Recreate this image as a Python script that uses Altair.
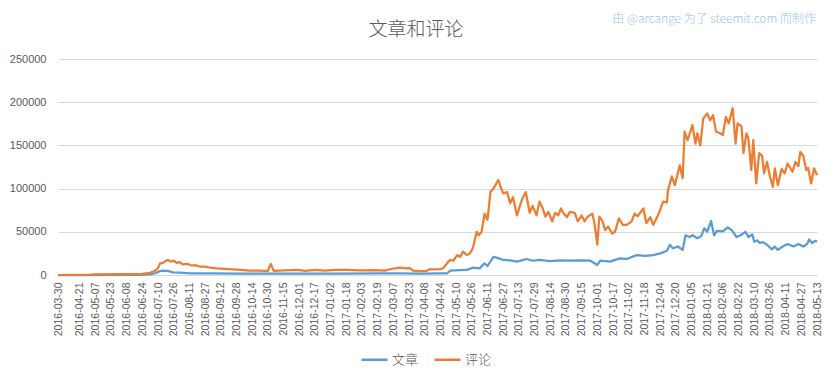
import altair as alt
import pandas as pd

TITLE = "文章和评论"
WATERMARK = "由 @arcange 为了 steemit.com 而制作"
START = "2016-03-30"
END = "2018-05-13"

tick_dates = [
    "2016-03-30", "2016-04-21", "2016-05-07", "2016-05-23", "2016-06-08", "2016-06-24",
    "2016-07-10", "2016-07-26", "2016-08-11", "2016-08-27", "2016-09-12", "2016-09-28",
    "2016-10-14", "2016-10-30", "2016-11-15", "2016-12-01", "2016-12-17", "2017-01-02",
    "2017-01-18", "2017-02-03", "2017-02-19", "2017-03-07", "2017-03-23", "2017-04-08",
    "2017-04-24", "2017-05-10", "2017-05-26", "2017-06-11", "2017-06-27", "2017-07-13",
    "2017-07-29", "2017-08-14", "2017-08-30", "2017-09-15", "2017-10-01", "2017-10-17",
    "2017-11-02", "2017-11-18", "2017-12-04", "2017-12-20", "2018-01-05", "2018-01-21",
    "2018-02-06", "2018-02-22", "2018-03-10", "2018-03-26", "2018-04-11", "2018-04-27",
    "2018-05-13",
]

y_ticks = [0, 50000, 100000, 150000, 200000, 250000]

series_names = ["文章", "评论"]
series_colors = ["#5B9BD5", "#ED7D31"]

# 文章 (posts): day offset from START, value
post_days = [0, 84, 94, 99, 104, 107, 112, 117, 124, 135, 155, 186, 216, 247, 288, 328,
             349, 369, 390, 397, 400, 410, 417, 423, 430, 435, 438, 444, 449, 454, 461,
             468, 473, 478, 484, 491, 501, 512, 522, 532, 543, 550, 553, 563, 573, 580,
             590, 599, 607, 614, 621, 624, 627, 632, 637, 640, 644, 647, 652, 656, 659,
             662, 666, 669, 672, 678, 683, 687, 692, 696, 701, 704, 708, 710, 713, 716,
             719, 723, 728, 731, 734, 739, 744, 750, 755, 760, 764, 766, 769, 772, 774]
post_vals = [0, 200, 800, 2000, 4500, 5000, 4800, 3100, 2800, 2000, 1900, 1600, 1500,
             1500, 1600, 1800, 2000, 1700, 1800, 2000, 5000, 5500, 5800, 8500, 7700,
             13500, 10400, 21000, 19500, 17400, 17000, 15400, 17000, 18500, 16500, 17400,
             16000, 17000, 16500, 17000, 16500, 11600, 16500, 15500, 19300, 18500, 23000,
             22000, 23000, 25000, 28000, 35000, 31000, 33000, 29000, 46000, 44000, 46000,
             42500, 45000, 54000, 50000, 62500, 46000, 51000, 50500, 55000, 52000, 44000,
             46000, 50000, 44000, 47000, 38500, 40000, 37000, 38000, 35000, 29700, 33000,
             29000, 33000, 35800, 33000, 36000, 33000, 36000, 41000, 37000, 39500, 39000]

# 评论 (comments): day offset from START, value
comment_days = [0, 33, 38, 63, 84, 94, 99, 102, 104, 107, 110, 112, 115, 118, 121, 124,
                127, 132, 136, 140, 145, 150, 155, 162, 170, 178, 186, 196, 206, 214, 217,
                220, 226, 237, 244, 252, 262, 272, 282, 295, 308, 323, 333, 342, 349, 354,
                359, 362, 369, 376, 379, 390, 393, 398, 400, 403, 407, 410, 413, 417, 420,
                423, 427, 429, 432, 435, 438, 441, 444, 449, 451, 454, 458, 461, 464, 468,
                473, 477, 481, 484, 488, 491, 494, 497, 500, 504, 507, 510, 513, 515, 519,
                522, 527, 530, 534, 537, 540, 545, 547, 550, 552, 555, 558, 561, 565, 568,
                572, 576, 580, 585, 588, 591, 597, 600, 604, 607, 611, 614, 617, 621, 622,
                626, 629, 632, 634, 637, 639, 642, 647, 650, 652, 655, 658, 662, 665, 668,
                671, 675, 678, 681, 684, 688, 691, 693, 697, 699, 702, 704, 707, 709, 712,
                715, 718, 720, 723, 726, 729, 731, 734, 738, 741, 744, 749, 752, 755, 757,
                760, 763, 765, 768, 771, 774]
comment_vals = [0, 300, 800, 900, 1000, 2500, 5000, 8000, 13500, 14000, 16500, 17400,
                15500, 16500, 14000, 15000, 12400, 13000, 11000, 11500, 9600, 9800, 8500,
                7700, 7200, 6600, 6000, 5000, 5200, 4600, 12700, 4800, 5000, 5500, 5800,
                4800, 5800, 5200, 5800, 5800, 5400, 5600, 5000, 7500, 8500, 7800, 8100,
                5000, 4600, 4800, 6600, 6800, 8000, 15400, 17400, 16500, 23000, 21000,
                27000, 23000, 25000, 31000, 50000, 46000, 50000, 71000, 64000, 96000,
                100000, 110000, 103000, 94500, 96000, 83000, 90000, 69000, 87000, 96000,
                72000, 80000, 69000, 85000, 78000, 67500, 73000, 62000, 72000, 69000,
                77000, 72000, 67000, 73000, 72000, 62000, 69000, 62000, 67500, 71000,
                60000, 35000, 67500, 63000, 52000, 56000, 48000, 50000, 65600, 58000,
                58000, 62000, 71000, 68000, 77000, 60000, 67000, 58000, 67000, 75000,
                85000, 84000, 98000, 114000, 104000, 117500, 127000, 112000, 166000,
                156000, 173500, 152000, 164000, 150000, 181000, 187000, 179000, 185000,
                166000, 164000, 162000, 183000, 175500, 193000, 152000, 175500, 172000,
                141000, 164000, 158000, 121500, 156000, 106000, 141000, 138000, 117500,
                131000, 114000, 102000, 123500, 104000, 123000, 117500, 129000, 119500,
                131000, 126000, 142500, 138000, 121500, 124000, 106000, 123500, 115500]

start = pd.Timestamp(START)


def frame(days, vals, name):
    dates = (start + pd.to_timedelta(days, unit="D")).strftime("%Y-%m-%d")
    return pd.DataFrame({"date": list(dates), "value": vals, "series": name})


df = pd.concat([frame(post_days, post_vals, series_names[0]),
                frame(comment_days, comment_vals, series_names[1])], ignore_index=True)


def dt(s):
    y, m, d = (int(p) for p in s.split("-"))
    return alt.DateTime(year=y, month=m, date=d, utc=True)


FONT_NUM = "Liberation Sans"
FONT_CJK = "Noto Sans CJK SC"
GRAY = "#595959"

lines = alt.Chart(df).mark_line(strokeWidth=2.25, strokeJoin="round").encode(
    x=alt.X(
        "date:T",
        scale=alt.Scale(type="utc", domain=[dt(START), dt(END)]),
        axis=alt.Axis(
            title=None, values=[dt(s) for s in tick_dates],
            labelExpr="utcFormat(datum.value, '%Y-%m-%d')",
            labelAngle=-90, labelFontSize=10.5, labelFont=FONT_NUM,
            labelColor=GRAY, ticks=False, labelPadding=7, grid=False,
            domainColor="#d9d9d9", domainWidth=1, labelOverlap=False, labelFlush=False,
        ),
    ),
    y=alt.Y(
        "value:Q",
        scale=alt.Scale(domain=[0, 250000], nice=False),
        axis=alt.Axis(
            title=None, values=y_ticks, format="d", labelFontSize=11, labelFont=FONT_NUM,
            labelColor=GRAY, ticks=False, domain=False, labelPadding=12,
            gridColor="#d9d9d9", gridWidth=1,
        ),
    ),
    color=alt.Color(
        "series:N",
        scale=alt.Scale(domain=series_names, range=series_colors),
        sort=series_names,
        legend=alt.Legend(
            title=None, orient="none", legendX=302, legendY=286, direction="horizontal",
            symbolType="stroke", symbolSize=676, symbolStrokeWidth=2.5,
            labelFontSize=13, labelFont=FONT_CJK, labelFontWeight=300, labelColor=GRAY,
            columnPadding=10, labelOffset=3, padding=0,
        ),
    ),
    order=alt.Order("series:N"),
)

title_text = alt.Chart(pd.DataFrame({"t": [TITLE]})).mark_text(
    align="center", baseline="middle", fontSize=19, font=FONT_CJK, fontWeight=300,
    color=GRAY
).encode(x=alt.value(358), y=alt.value(-29), text="t:N")

watermark = alt.Chart(pd.DataFrame({"t": [WATERMARK]})).mark_text(
    align="right", baseline="middle", fontSize=12, font=FONT_CJK, fontWeight=300,
    color="#9DC3E6"
).encode(x=alt.value(758), y=alt.value(-40), text="t:N")

chart = alt.layer(lines, title_text, watermark).properties(
    width=759,
    height=216,
    autosize=alt.AutoSizeParams(type="none"),
    padding={"left": 50, "top": 51, "right": 7, "bottom": 95},
).configure_view(stroke=None)

chart.save("out.html", embed_options={"renderer": "svg", "actions": False})
